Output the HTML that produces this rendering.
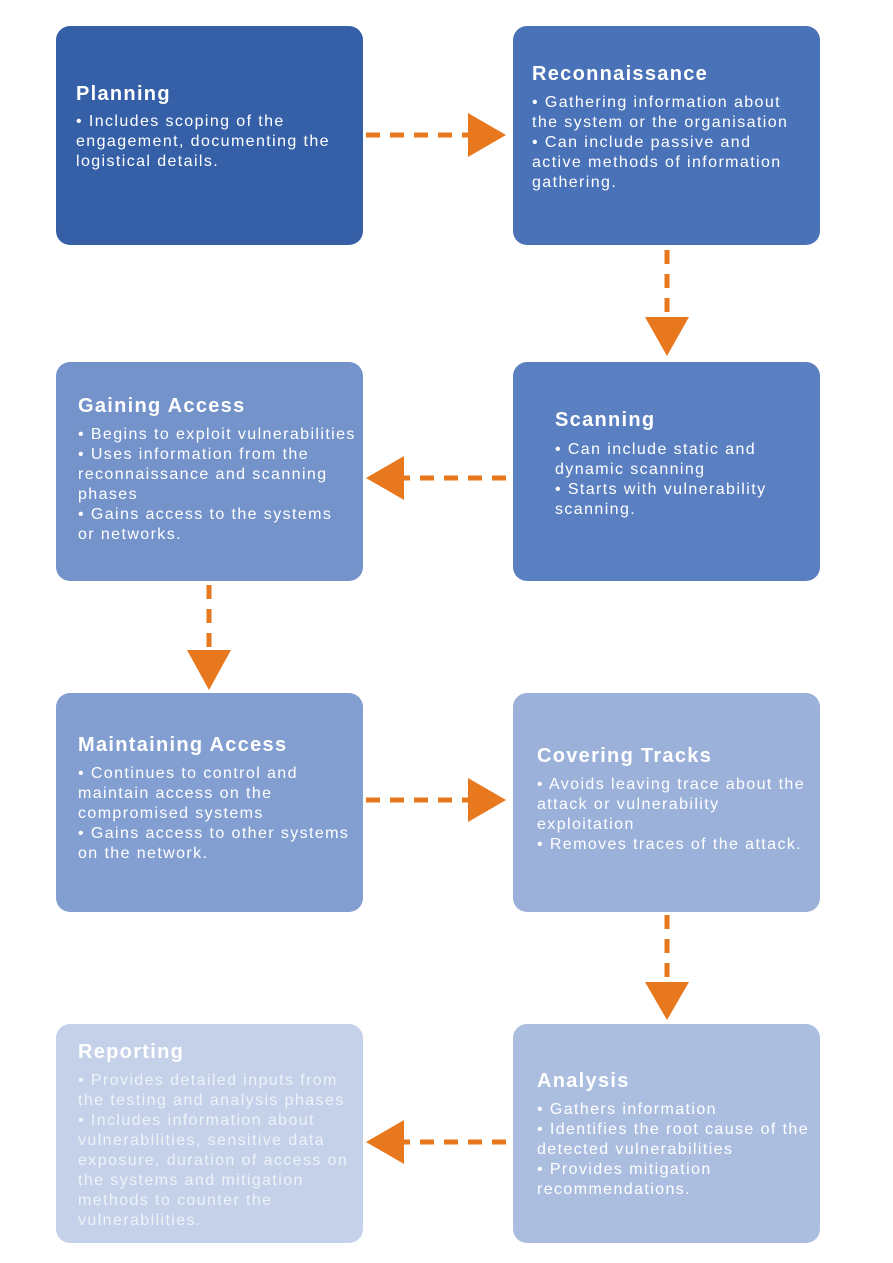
<!DOCTYPE html>
<html><head><meta charset="utf-8"><style>
body{margin:0;width:893px;height:1263px;background:#fff;position:relative;overflow:hidden;font-family:"Liberation Sans",sans-serif;}
.b{position:absolute;width:307px;height:219px;border-radius:14px;}
.t{position:absolute;color:#fff;white-space:nowrap;}
.h{font-weight:bold;font-size:20px;letter-spacing:1.3px;line-height:24px;}
.p{font-size:16px;letter-spacing:1.4px;line-height:20px;}
</style></head><body>
<div class="b" style="left:56px;top:26px;background:#3560a8"></div>
<div class="b" style="left:513px;top:26px;background:#4a72b8"></div>
<div class="b" style="left:513px;top:362px;background:#5b80c1"></div>
<div class="b" style="left:56px;top:362px;background:#7493cb"></div>
<div class="b" style="left:56px;top:693px;background:#839fd1"></div>
<div class="b" style="left:513px;top:693px;background:#9bb1da"></div>
<div class="b" style="left:513px;top:1024px;background:#abbee0"></div>
<div class="b" style="left:56px;top:1024px;background:#c4d1e8"></div>

<div class="t h" style="left:76px;top:82px">Planning</div>
<div class="t p" style="left:76px;top:112px">• Includes scoping of the<br>engagement, documenting the<br>logistical details.</div>

<div class="t h" style="left:532px;top:62px">Reconnaissance</div>
<div class="t p" style="left:532px;top:93px">• Gathering information about<br>the system or the organisation<br>• Can include passive and<br>active methods of information<br>gathering.</div>

<div class="t h" style="left:555px;top:408px">Scanning</div>
<div class="t p" style="left:555px;top:440px">• Can include static and<br>dynamic scanning<br>• Starts with vulnerability<br>scanning.</div>

<div class="t h" style="left:78px;top:394px">Gaining Access</div>
<div class="t p" style="left:78px;top:425px">• Begins to exploit vulnerabilities<br>• Uses information from the<br>reconnaissance and scanning<br>phases<br>• Gains access to the systems<br>or networks.</div>

<div class="t h" style="left:78px;top:733px">Maintaining Access</div>
<div class="t p" style="left:78px;top:764px">• Continues to control and<br>maintain access on the<br>compromised systems<br>• Gains access to other systems<br>on the network.</div>

<div class="t h" style="left:537px;top:744px">Covering Tracks</div>
<div class="t p" style="left:537px;top:775px">• Avoids leaving trace about the<br>attack or vulnerability<br>exploitation<br>• Removes traces of the attack.</div>

<div class="t h" style="left:537px;top:1069px">Analysis</div>
<div class="t p" style="left:537px;top:1100px">• Gathers information<br>• Identifies the root cause of the<br>detected vulnerabilities<br>• Provides mitigation<br>recommendations.</div>

<div class="t h" style="left:78px;top:1040px">Reporting</div>
<div class="t p" style="left:78px;top:1071px;color:#eef2f9">• Provides detailed inputs from<br>the testing and analysis phases<br>• Includes information about<br>vulnerabilities, sensitive data<br>exposure, duration of access on<br>the systems and mitigation<br>methods to counter the<br>vulnerabilities.</div>

<svg width="893" height="1263" style="position:absolute;left:0;top:0">
<g stroke="#e8781e" stroke-width="5" stroke-dasharray="14 10" fill="none">
<line x1="366" y1="135" x2="470" y2="135"/>
<line x1="667" y1="250" x2="667" y2="318"/>
<line x1="506" y1="478" x2="404" y2="478"/>
<line x1="209" y1="585" x2="209" y2="652"/>
<line x1="366" y1="800" x2="470" y2="800"/>
<line x1="667" y1="915" x2="667" y2="983"/>
<line x1="506" y1="1142" x2="404" y2="1142"/>
</g>
<g fill="#e8781e">
<polygon points="468,113 506,135 468,157"/>
<polygon points="645,317 689,317 667,356"/>
<polygon points="404,456 366,478 404,500"/>
<polygon points="187,650 231,650 209,690"/>
<polygon points="468,778 506,800 468,822"/>
<polygon points="645,982 689,982 667,1020"/>
<polygon points="404,1120 366,1142 404,1164"/>
</g>
</svg>
</body></html>
